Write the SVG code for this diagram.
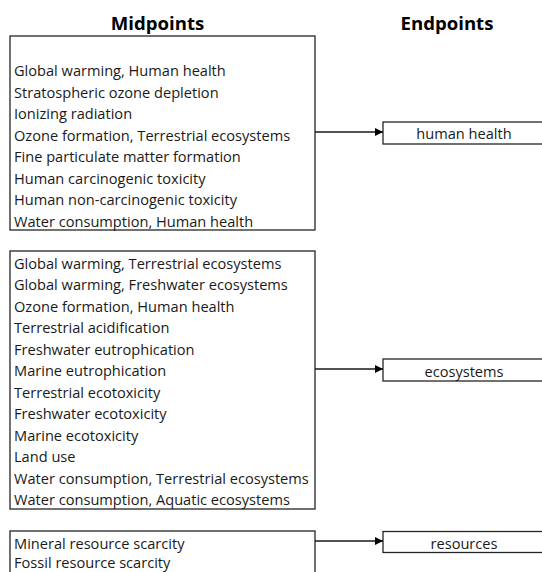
<svg xmlns="http://www.w3.org/2000/svg" width="542" height="572" viewBox="0 0 542 572">
<defs>
<style>
.box{fill:#fff;stroke:#262626;stroke-width:1.3}
.t{font-family:"Open Sans","Noto Sans",sans-serif;font-size:14.6px;fill:#1a1a1a}
.e{font-family:"Open Sans","Noto Sans",sans-serif;font-size:14.6px;fill:#1a1a1a;text-anchor:middle}
.h{font-family:"Open Sans","Noto Sans",sans-serif;font-size:18.6px;font-weight:bold;fill:#000;text-anchor:middle}
.c{stroke:#1a1a1a;stroke-width:1.3;fill:none}
</style>
<marker id="arr" markerWidth="10" markerHeight="10" refX="9" refY="5" orient="auto" markerUnits="userSpaceOnUse">
<path d="M1,1 L9,5 L1,9 Z" fill="#000"/>
</marker>
</defs>
<rect width="542" height="572" fill="#fff"/>
<g id="titles">
<text class="h" x="157.5" y="29.5">Midpoints</text>
<text class="h" x="447" y="29.5">Endpoints</text>
</g>
<g id="mid-human">
<rect class="box" x="10" y="36" width="305" height="194"/>
<text class="t" x="14" y="76">Global warming, Human health</text>
<text class="t" x="14" y="97.5">Stratospheric ozone depletion</text>
<text class="t" x="14" y="119">Ionizing radiation</text>
<text class="t" x="14" y="140.5">Ozone formation, Terrestrial ecosystems</text>
<text class="t" x="14" y="162">Fine particulate matter formation</text>
<text class="t" x="14" y="183.5">Human carcinogenic toxicity</text>
<text class="t" x="14" y="205">Human non-carcinogenic toxicity</text>
<text class="t" x="14" y="226.5">Water consumption, Human health</text>
</g>
<g id="mid-eco">
<rect class="box" x="10" y="251" width="305" height="258"/>
<text class="t" x="14" y="268.5">Global warming, Terrestrial ecosystems</text>
<text class="t" x="14" y="290">Global warming, Freshwater ecosystems</text>
<text class="t" x="14" y="311.5">Ozone formation, Human health</text>
<text class="t" x="14" y="333">Terrestrial acidification</text>
<text class="t" x="14" y="354.5">Freshwater eutrophication</text>
<text class="t" x="14" y="376">Marine eutrophication</text>
<text class="t" x="14" y="397.5">Terrestrial ecotoxicity</text>
<text class="t" x="14" y="419">Freshwater ecotoxicity</text>
<text class="t" x="14" y="440.5">Marine ecotoxicity</text>
<text class="t" x="14" y="462">Land use</text>
<text class="t" x="14" y="483.5">Water consumption, Terrestrial ecosystems</text>
<text class="t" x="14" y="505">Water consumption, Aquatic ecosystems</text>
</g>
<g id="mid-res">
<rect class="box" x="10" y="531" width="305" height="60"/>
<text class="t" x="14" y="548.5">Mineral resource scarcity</text>
<text class="t" x="14" y="567.5">Fossil resource scarcity</text>
</g>
<g id="end-human">
<rect class="box" x="383" y="122" width="170" height="22"/>
<text class="e" x="464" y="139">human health</text>
</g>
<g id="end-eco">
<rect class="box" x="383" y="359" width="170" height="22"/>
<text class="e" x="464" y="376.5">ecosystems</text>
</g>
<g id="end-res">
<rect class="box" x="383" y="531.5" width="170" height="21"/>
<text class="e" x="464" y="548.5">resources</text>
</g>
<g id="connectors">
<line class="c" x1="315" y1="132" x2="383" y2="132" marker-end="url(#arr)"/>
<line class="c" x1="315" y1="369" x2="383" y2="369" marker-end="url(#arr)"/>
<line class="c" x1="315" y1="541" x2="383" y2="541" marker-end="url(#arr)"/>
</g>
</svg>
